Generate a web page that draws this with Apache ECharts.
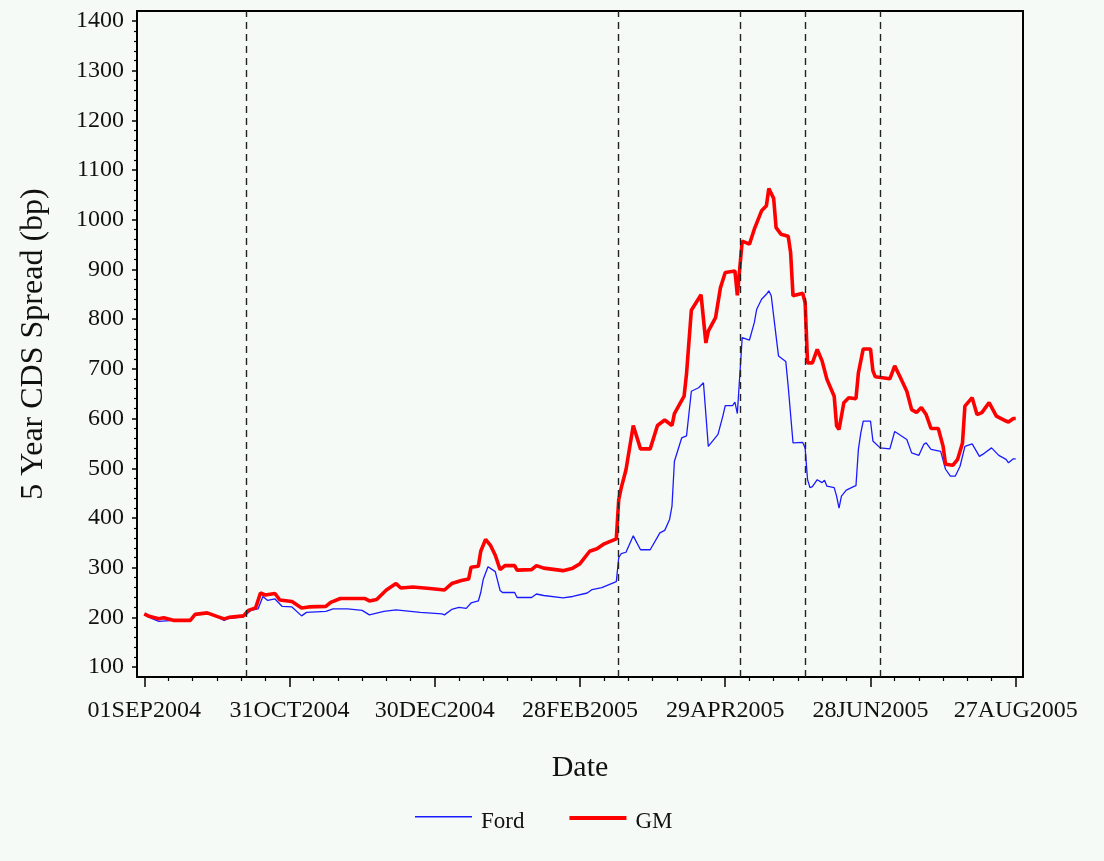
<!DOCTYPE html>
<html>
<head>
<meta charset="utf-8">
<script src="https://cdn.jsdelivr.net/npm/echarts@6/dist/echarts.min.js"></script>
<style>
  html, body { margin: 0; padding: 0; background: #f6faf7; }
  #chart { width: 1104px; height: 861px; }
</style>
</head>
<body>
<div id="chart"></div>
<script>
// 5-year CDS spreads (bp), Ford and GM, Sep 2004 - Aug 2005
const fordDates = [
  '2004-09-01','2004-09-04','2004-09-07','2004-09-13','2004-09-20','2004-09-22','2004-09-27',
  '2004-10-01','2004-10-04','2004-10-06','2004-10-12','2004-10-15','2004-10-18','2004-10-20',
  '2004-10-22','2004-10-25','2004-10-28','2004-11-01','2004-11-05','2004-11-07','2004-11-15',
  '2004-11-18','2004-11-24','2004-11-30','2004-12-03','2004-12-09','2004-12-14','2004-12-18',
  '2004-12-24','2005-01-02','2005-01-03','2005-01-06','2005-01-09','2005-01-12','2005-01-14',
  '2005-01-17','2005-01-18','2005-01-19','2005-01-21','2005-01-24','2005-01-26','2005-01-27',
  '2005-02-01','2005-02-02','2005-02-08','2005-02-10','2005-02-13','2005-02-21','2005-02-25',
  '2005-03-03','2005-03-05','2005-03-09','2005-03-15','2005-03-16','2005-03-17','2005-03-19',
  '2005-03-22','2005-03-25','2005-03-29','2005-04-02','2005-04-04','2005-04-06','2005-04-07',
  '2005-04-08','2005-04-11','2005-04-13','2005-04-15','2005-04-18','2005-04-20','2005-04-22',
  '2005-04-26','2005-04-28','2005-04-29','2005-05-02','2005-05-03','2005-05-04','2005-05-06',
  '2005-05-09','2005-05-11','2005-05-12','2005-05-14','2005-05-16','2005-05-17','2005-05-18',
  '2005-05-20','2005-05-21','2005-05-24','2005-05-25','2005-05-27','2005-05-31','2005-06-01',
  '2005-06-02','2005-06-03','2005-06-04','2005-06-06','2005-06-08','2005-06-09','2005-06-10',
  '2005-06-13','2005-06-14','2005-06-15','2005-06-16','2005-06-18','2005-06-21','2005-06-22',
  '2005-06-23','2005-06-24','2005-06-25','2005-06-28','2005-06-29','2005-07-02','2005-07-06',
  '2005-07-08','2005-07-13','2005-07-15','2005-07-18','2005-07-20','2005-07-21','2005-07-23',
  '2005-07-27','2005-07-29','2005-07-31','2005-08-02','2005-08-04','2005-08-06','2005-08-09',
  '2005-08-12','2005-08-14','2005-08-17','2005-08-20','2005-08-23','2005-08-24','2005-08-26',
  '2005-08-27'
];
const fordValues = [
  206, 198, 192, 194, 194, 205, 209,
  201, 194, 198, 201, 214, 217, 242,
  234, 237, 222, 221, 203, 210, 212,
  217, 217, 214, 205, 212, 215, 213,
  210, 207, 205, 216, 220, 218, 229,
  233, 250, 276, 302, 292, 254, 250,
  250, 240, 240, 247, 244, 239, 242,
  249, 256, 260, 272, 320, 328, 331,
  364, 336, 336, 370, 375, 397, 424,
  514, 561, 565, 655, 662, 672, 544,
  568, 605, 626, 626, 633, 610, 763,
  758, 793, 820, 840, 850, 857, 847,
  766, 726, 715, 665, 551, 552, 541,
  477, 461, 463, 477, 471, 476, 464,
  461, 444, 420, 444, 456, 463, 465,
  538, 571, 595, 595, 555, 541, 539,
  574, 558, 531, 526, 548, 551, 538,
  534, 498, 484, 484, 504, 544, 549,
  524, 530, 541, 526, 518, 511, 519,
  519
];
const gmDates = [
  '2004-09-01','2004-09-03','2004-09-07','2004-09-09','2004-09-13','2004-09-20','2004-09-22',
  '2004-09-27','2004-10-01','2004-10-04','2004-10-06','2004-10-12','2004-10-14','2004-10-17',
  '2004-10-19','2004-10-21','2004-10-25','2004-10-27','2004-11-01','2004-11-05','2004-11-08',
  '2004-11-15','2004-11-17','2004-11-21','2004-12-01','2004-12-03','2004-12-06','2004-12-10',
  '2004-12-14','2004-12-16','2004-12-21','2004-12-28','2005-01-03','2005-01-06','2005-01-10',
  '2005-01-13','2005-01-14','2005-01-17','2005-01-18','2005-01-20','2005-01-22','2005-01-24',
  '2005-01-26','2005-01-28','2005-02-01','2005-02-02','2005-02-08','2005-02-10','2005-02-13',
  '2005-02-21','2005-02-25','2005-02-28','2005-03-04','2005-03-07','2005-03-10','2005-03-15',
  '2005-03-16','2005-03-17','2005-03-19','2005-03-22','2005-03-25','2005-03-29','2005-04-01',
  '2005-04-04','2005-04-07','2005-04-08','2005-04-12','2005-04-13','2005-04-15','2005-04-19',
  '2005-04-21','2005-04-22','2005-04-25','2005-04-27','2005-04-29','2005-05-03','2005-05-04',
  '2005-05-06','2005-05-09','2005-05-11','2005-05-14','2005-05-16','2005-05-17','2005-05-19',
  '2005-05-20','2005-05-22','2005-05-25','2005-05-26','2005-05-27','2005-05-31','2005-06-01',
  '2005-06-02','2005-06-04','2005-06-06','2005-06-08','2005-06-10','2005-06-13','2005-06-14',
  '2005-06-15','2005-06-17','2005-06-19','2005-06-22','2005-06-23','2005-06-25','2005-06-28',
  '2005-06-29','2005-06-30','2005-07-06','2005-07-08','2005-07-10','2005-07-13','2005-07-15',
  '2005-07-17','2005-07-19','2005-07-21','2005-07-23','2005-07-26','2005-07-28','2005-07-29',
  '2005-08-01','2005-08-03','2005-08-05','2005-08-06','2005-08-09','2005-08-11','2005-08-13',
  '2005-08-16','2005-08-19','2005-08-23','2005-08-24','2005-08-26','2005-08-27'
];
const gmValues = [
  207, 202, 197, 199, 194, 194, 206,
  209, 202, 197, 200, 203, 214, 219,
  249, 245, 248, 235, 232, 219, 221,
  222, 230, 238, 238, 233, 236, 255,
  268, 259, 261, 258, 255, 268, 274,
  277, 301, 303, 333, 357, 345, 325,
  296, 304, 304, 295, 296, 304, 299,
  294, 299, 308, 333, 338, 348, 358,
  437, 460, 497, 586, 539, 539, 586,
  597, 586, 610, 645, 690, 818, 849,
  752, 776, 803, 863, 894, 897, 848,
  957, 951, 981, 1018, 1028, 1063, 1043,
  984, 971, 967, 934, 847, 852, 833,
  712, 712, 739, 716, 679, 645, 585,
  578, 632, 642, 640, 692, 740, 740,
  696, 684, 680, 706, 686, 655, 618,
  612, 622, 608, 580, 580, 544, 508,
  506, 518, 551, 625, 642, 608, 612,
  632, 605, 595, 593, 600, 600
];
// Event dates marked with dashed vertical lines
const eventDates = ['2004-10-13', '2005-03-16', '2005-05-05', '2005-06-01', '2005-07-02'];
// Axis ticks
const xTickDates = ['2004-09-01', '2004-10-31', '2004-12-30', '2005-02-28', '2005-04-29', '2005-06-28', '2005-08-27'];
const xTickLabels = ['01SEP2004', '31OCT2004', '30DEC2004', '28FEB2005', '29APR2005', '28JUN2005', '27AUG2005'];
const yTicks = [100, 200, 300, 400, 500, 600, 700, 800, 900, 1000, 1100, 1200, 1300, 1400];

// x positions are days counted from the first date
const ORIGIN = Date.UTC(2004, 8, 1);
function dayOf(s) {
  const p = s.split('-').map(Number);
  return Math.round((Date.UTC(p[0], p[1] - 1, p[2]) - ORIGIN) / 86400000);
}
const xTickDays = xTickDates.map(dayOf);
const xMinorDays = [];
for (let i = 0; i + 1 < xTickDays.length; i++) {
  const step = (xTickDays[i + 1] - xTickDays[i]) / 6;
  for (let k = 1; k < 6; k++) xMinorDays.push(xTickDays[i] + k * step);
}
const yMinor = [];
for (let i = 0; i + 1 < yTicks.length; i++) {
  const step = (yTicks[i + 1] - yTicks[i]) / 5;
  for (let k = 1; k < 5; k++) yMinor.push(yTicks[i] + k * step);
}

const FONT = 'Liberation Serif';
const INK = '#111';
const BG = '#f6faf7';

// Legend keys: a plain stroke sitting above the text centre
// (the tiny second sub-path only widens the box so the stroke is placed high)
const legendKey = h => 'path://M0,0H57V' + h + 'H0Z M0,11H0.01V11.01H0Z';

const fordData = fordDates.map((d, i) => [dayOf(d), fordValues[i]]);
const gmData = gmDates.map((d, i) => [dayOf(d), gmValues[i]]);

const chart = echarts.init(document.getElementById('chart'), null, { renderer: 'canvas' });
chart.setOption({
  backgroundColor: BG,
  animation: false,
  grid: {
    left: 137, right: 81, top: 11, bottom: 184,
    show: true, borderColor: '#000', borderWidth: 2, backgroundColor: BG
  },
  legend: {
    data: [
      { name: 'Ford', icon: legendKey(1.4) },
      { name: 'GM', icon: legendKey(4) }
    ],
    left: 410, top: 805,
    itemWidth: 57, itemHeight: 15, itemGap: 45,
    symbolKeepAspect: true,
    textStyle: { fontFamily: FONT, fontSize: 23, color: INK, padding: [0, 0, 0, 4] }
  },
  xAxis: [
    {
      type: 'value', min: -3, max: 363, position: 'bottom',
      name: 'Date', nameLocation: 'middle', nameGap: 76,
      nameTextStyle: { fontFamily: FONT, fontSize: 30, color: INK },
      axisLine: { show: true, onZero: false, lineStyle: { color: '#000', width: 2 } },
      axisTick: { show: true, customValues: xTickDays, length: 10, lineStyle: { color: '#000', width: 1.5 } },
      axisLabel: {
        customValues: xTickDays, margin: 22,
        fontFamily: FONT, fontSize: 24, color: INK,
        formatter: v => xTickLabels[xTickDays.indexOf(Math.round(v))] || ''
      },
      splitLine: { show: false }
    },
    {
      type: 'value', min: -3, max: 363, position: 'bottom',
      axisLine: { show: false, onZero: false },
      axisTick: { show: true, customValues: xMinorDays, length: 4, lineStyle: { color: '#000', width: 1.2 } },
      axisLabel: { show: false },
      splitLine: { show: false }
    }
  ],
  yAxis: [
    {
      type: 'value', min: 80, max: 1420, position: 'left',
      name: '5 Year CDS Spread (bp)', nameLocation: 'middle', nameGap: 87,
      nameTextStyle: { fontFamily: FONT, fontSize: 32, color: INK },
      axisLine: { show: true, onZero: false, lineStyle: { color: '#000', width: 2 } },
      axisTick: { show: true, customValues: yTicks, length: 5, lineStyle: { color: '#000', width: 1.5 } },
      axisLabel: {
        customValues: yTicks, margin: 13, fontFamily: FONT, fontSize: 24, color: INK,
        formatter: v => String(Math.round(v))
      },
      splitLine: { show: false }
    },
    {
      type: 'value', min: 80, max: 1420, position: 'left',
      axisLine: { show: false, onZero: false },
      axisTick: { show: true, customValues: yMinor, length: 3, lineStyle: { color: '#000', width: 1.2 } },
      axisLabel: { show: false },
      splitLine: { show: false }
    }
  ],
  series: [
    {
      name: 'Ford', type: 'line', xAxisIndex: 0, yAxisIndex: 0,
      data: fordData, showSymbol: false, symbol: 'none',
      itemStyle: { color: '#1a1aff' },
      lineStyle: { color: '#1a1aff', width: 1.3 }
    },
    {
      name: 'GM', type: 'line', xAxisIndex: 0, yAxisIndex: 0,
      data: gmData, showSymbol: false, symbol: 'none',
      itemStyle: { color: '#ff0000' },
      lineStyle: { color: '#ff0000', width: 3.6 },
      markLine: {
        silent: true, symbol: ['none', 'none'],
        label: { show: false },
        lineStyle: { color: '#222', width: 1.4, type: [7, 5] },
        data: eventDates.map(d => ({ xAxis: dayOf(d) }))
      }
    }
  ]
});
</script>
</body>
</html>
